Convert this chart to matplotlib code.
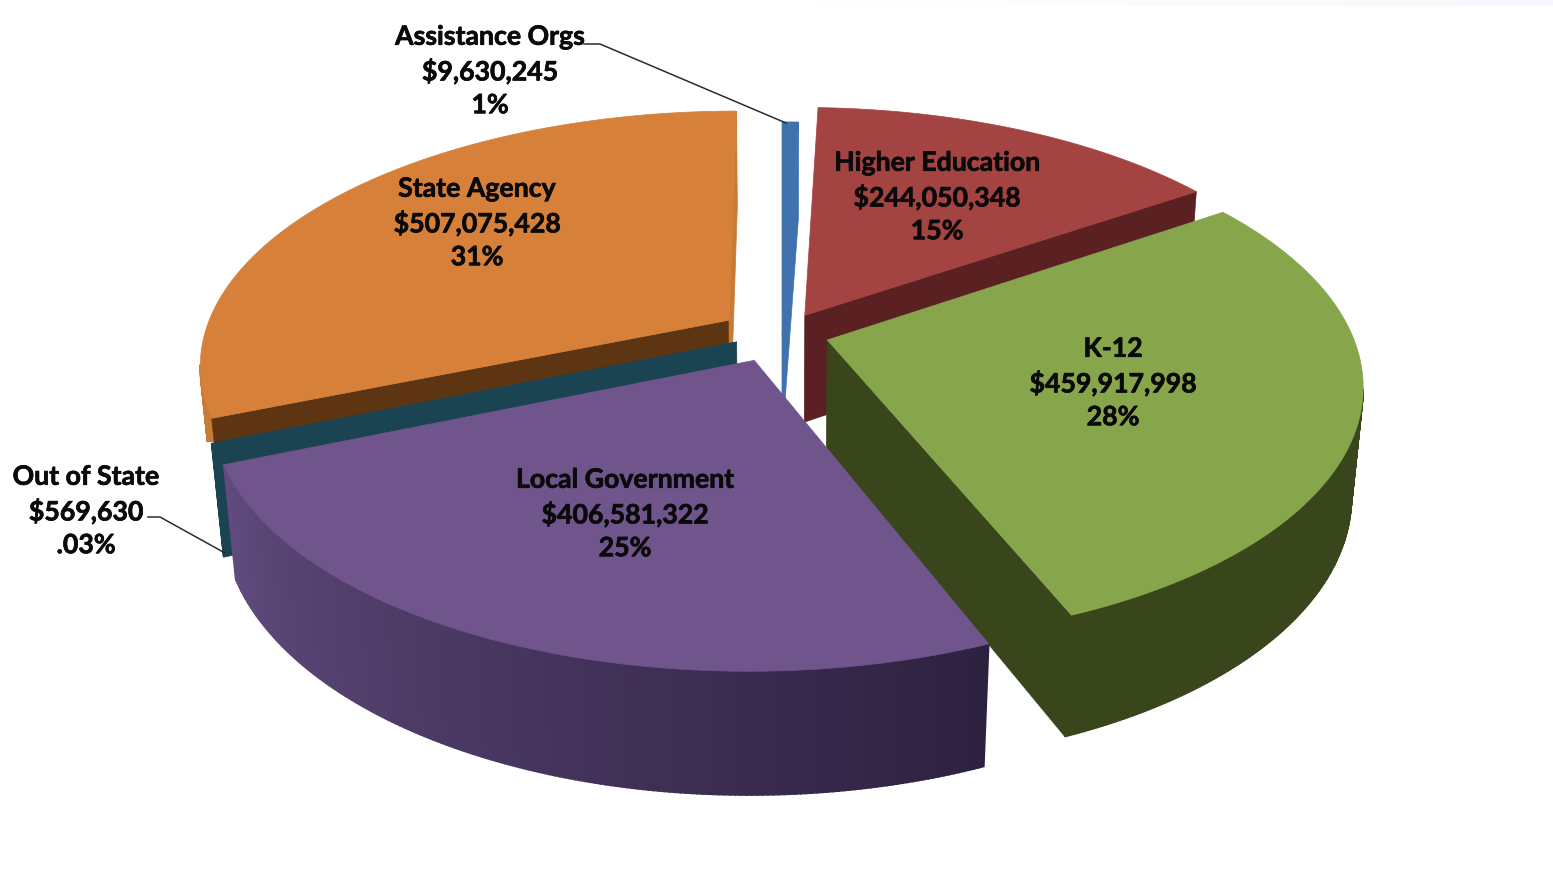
import numpy as np
import matplotlib
matplotlib.use('Agg')
import matplotlib.pyplot as plt
import matplotlib.patheffects as pe
from matplotlib.colors import LinearSegmentedColormap
from matplotlib.patches import Polygon, Rectangle

# clockwise from twelve o'clock
names = ['Assistance Orgs', 'Higher Education', 'K-12', 'Local Government', 'Out of State', 'State Agency']
amounts = [9630245, 244050348, 459917998, 406581322, 569630, 507075428]
pct_labels = ['1%', '15%', '28%', '25%', '.03%', '31%']

# how far each slice is pulled from the centre (pie radius = 1)
EXPLODE = [(0.0, 0.0), (0.044, 0.08), (0.086, -0.02), (-0.052, -0.100), (-0.086, -0.028), (-0.102, 0.06)]

TOP = ['#3F72AF', '#A34442', '#87A54B', '#70548C', '#1A4452', '#D6803A']
FACE_START = ['#3F72AF', '#5A2022', '#39451B', '#39294F', '#1A4452', '#5E3512']
FACE_END = ['#3F72AF', '#5A2022', '#39451B', '#39294F', '#1A4452', '#C97A34']
WALL_L = ['#3F72AF', '#6E2A29', '#3A461C', '#2D2140', '#1A4452', '#C97A34']
WALL_R = ['#3F72AF', '#6E2A29', '#39451B', '#614B7E', '#1A4452', '#C97A34']

LABEL_POS = [(490, 71), (937, 197), (1113, 383), (625, 514), (86, 511), (477, 223)]
DRAW_ORDER = [5, 4, 1, 0, 2, 3]

# camera
CX, CY = 782, 335
SX, SY = 525, 249
PERSP = 0.1686
DEPTH_W = 0.02
DEPTH_PX = 110

# State Agency's wall stops where the teal sliver begins
STATE_WALL_BOTTOM = 442


def project(x, y, lower=False):
    w = 1 + PERSP * y + (DEPTH_W if lower else 0)
    py = CY - SY * y / w
    if lower:
        py = py + DEPTH_PX / w
    return CX + SX * x / w, py


def rim(a0, a1, offset, lower=False, step=0.5):
    n = max(2, int(abs(a1 - a0) / step) + 2)
    ang = np.radians(np.linspace(a0, a1, n))
    px, py = project(np.sin(ang) + offset[0], np.cos(ang) + offset[1], lower)
    return np.column_stack([px, py])


def faces_camera(nx, ny, px, py):
    # camera sits in front of the pie on the y axis
    return nx * px + ny * (py + 1 / PERSP) <= 1e-6


def draw_slice(ax, a0, a1, offset, i):
    tip_t = np.array(project(offset[0], offset[1]))
    tip_b = np.array(project(offset[0], offset[1], True))

    # outer wall, thin strips so the shading can run across it
    cmap = LinearSegmentedColormap.from_list('wall', [WALL_L[i], WALL_R[i]])
    t = rim(a0, a1, offset)
    b = rim(a0, a1, offset, True)
    angles = np.linspace(a0, a1, len(t))
    clip = None
    if i == 5:
        clip = Rectangle((0, 0), 1553, STATE_WALL_BOTTOM, transform=ax.transData)
    for k in range(len(t) - 1):
        a = np.radians(angles[k])
        if not faces_camera(np.sin(a), np.cos(a), np.sin(a) + offset[0], np.cos(a) + offset[1]):
            continue
        c = cmap(k / max(1, len(t) - 2))
        strip = ax.add_patch(Polygon([t[k], t[k + 1], b[k + 1], b[k]], fc=c, ec=c, lw=1.2))
        if clip is not None:
            strip.set_clip_path(clip)

    # cut faces that can be seen
    for a, sign, col in ((a0, -1, FACE_START[i]), (a1, 1, FACE_END[i])):
        r = np.radians(a)
        if not faces_camera(sign * np.cos(r), -sign * np.sin(r), offset[0], offset[1]):
            continue
        edge_t = rim(a, a, offset)[0]
        edge_b = rim(a, a, offset, True)[0]
        ax.add_patch(Polygon([tip_t, edge_t, edge_b, tip_b], fc=col, ec=col, lw=0.5))

    ax.add_patch(Polygon(np.vstack([tip_t, t]), fc=TOP[i], ec=TOP[i], lw=0.5))


fig = plt.figure(figsize=(15.53, 8.91), dpi=100, facecolor='white')
ax = fig.add_axes([0, 0, 1, 1])
ax.axis('off')

# faint band along the upper edge
band = np.linspace(0, 1, 64).reshape(1, -1)
band_cmap = LinearSegmentedColormap.from_list('band', ['#FFFFFF', '#F7F8FD'])
ax.imshow(band, cmap=band_cmap, extent=(800, 1553, 6, 0), aspect='auto', zorder=0)

ax.set_xlim(0, 1553)
ax.set_ylim(891, 0)

sweeps = 360 * np.array(amounts) / sum(amounts)
ends = np.cumsum(sweeps)
starts = ends - sweeps
for i in DRAW_ORDER:
    draw_slice(ax, starts[i], ends[i], EXPLODE[i], i)

# leader lines for the two small slices
ax.plot([584, 600, 786], [44, 44, 123], color='#2B2B2B', lw=1.1, zorder=5)
ax.plot([148, 160, 225], [517, 517, 553], color='#2B2B2B', lw=1.1, zorder=5)

for i in range(len(names)):
    txt = f"{names[i]}\n${amounts[i]:,}\n{pct_labels[i]}"
    label = ax.text(LABEL_POS[i][0], LABEL_POS[i][1], txt, ha='center', va='center', family='Lato',
                    weight='bold', fontsize=19.2, color='#0A0A0A', linespacing=1.44, zorder=6)
    label.set_path_effects([pe.withStroke(linewidth=0.5, foreground='#0A0A0A')])

fig.savefig('out.png', dpi=100)
plt.close(fig)
